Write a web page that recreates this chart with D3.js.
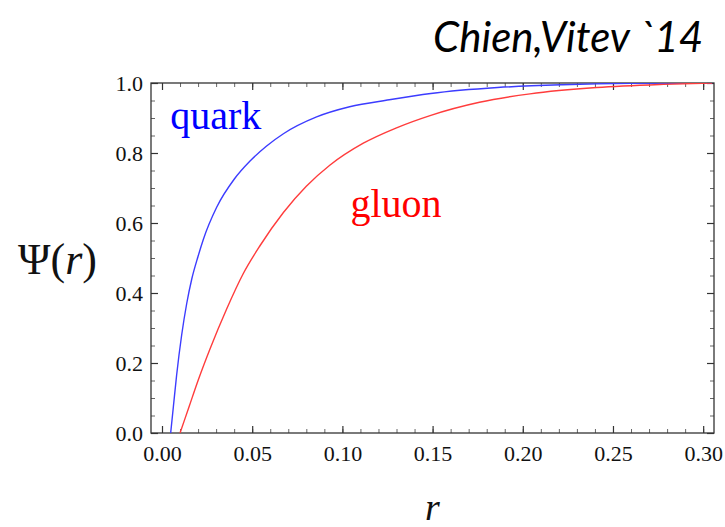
<!DOCTYPE html>
<html>
<head>
<meta charset="utf-8">
<script src="https://cdn.jsdelivr.net/npm/d3@7"></script>
<style>
  body { margin: 0; background: #fff; }
  .axis text { font-family: "Liberation Serif", serif; font-size: 22px; fill: #111; }
  .axis .domain { display: none; }
  .major line { stroke: #333; stroke-width: 1.2; }
  .minor line { stroke: #666; stroke-width: 1; }
</style>
</head>
<body>
<div class="chart"></div>
<script>
// values
const rQuark   = [0.0048, 0.0063, 0.0081, 0.0109, 0.0137, 0.0165, 0.020, 0.0229, 0.0303, 0.040, 0.0488, 0.058, 0.0673, 0.0857, 0.104, 0.126, 0.149, 0.186, 0.222, 0.26, 0.305]
const psiQuark = [0, 0.075, 0.165, 0.28, 0.37, 0.44, 0.505, 0.553, 0.645, 0.725, 0.777, 0.82, 0.855, 0.903, 0.932, 0.952, 0.970, 0.987, 0.995, 0.999, 1.0]

const rGluon   = [0.010, 0.015, 0.020, 0.0266, 0.0359, 0.045, 0.0543, 0.0673, 0.080, 0.093, 0.1116, 0.130, 0.1486, 0.176, 0.204, 0.241, 0.278, 0.305]
const psiGluon = [0, 0.075, 0.15, 0.24, 0.355, 0.455, 0.535, 0.63, 0.705, 0.765, 0.828, 0.872, 0.907, 0.945, 0.969, 0.987, 0.996, 1.0]

const xMajor = [0, 0.05, 0.10, 0.15, 0.20, 0.25, 0.30]
const xMinor = d3.range(0, 31).map(i => i / 100)
const yMajor = [0, 0.2, 0.4, 0.6, 0.8, 1.0]
const yMinor = d3.range(0, 21).map(i => i / 20)

const xDomain = [-0.0061, 0.306]
const yDomain = [0, 1]

const margin = ({top: 83, right: 11, bottom: 94, left: 151})
const width = 725 - margin.left - margin.right,
      height = 527 - margin.top - margin.bottom;

const root = d3.select(".chart").append("svg")
  .attr("width", 725)
  .attr("height", 527)

const svg = root.append("g")
  .attr("transform", `translate(${margin.left},${margin.top})`)

const xScale = d3.scaleLinear().domain(xDomain).range([0, width])
const yScale = d3.scaleLinear().domain(yDomain).range([height, 0])

// minor ticks first, majors on top
svg.append("g").attr("class", "axis minor").attr("transform", `translate(0,${height})`)
  .call(d3.axisBottom(xScale).tickValues(xMinor).tickSize(-4).tickFormat(""))
svg.append("g").attr("class", "axis minor")
  .call(d3.axisTop(xScale).tickValues(xMinor).tickSize(-4).tickFormat(""))
svg.append("g").attr("class", "axis minor")
  .call(d3.axisLeft(yScale).tickValues(yMinor).tickSize(-4).tickFormat(""))
svg.append("g").attr("class", "axis minor").attr("transform", `translate(${width},0)`)
  .call(d3.axisRight(yScale).tickValues(yMinor).tickSize(-4).tickFormat(""))

svg.append("g").attr("class", "axis major").attr("transform", `translate(0,${height})`)
  .call(d3.axisBottom(xScale).tickValues(xMajor).tickSize(-7).tickPadding(12).tickFormat(d3.format(".2f")))
svg.append("g").attr("class", "axis major")
  .call(d3.axisTop(xScale).tickValues(xMajor).tickSize(-7).tickFormat(""))
svg.append("g").attr("class", "axis major")
  .call(d3.axisLeft(yScale).tickValues(yMajor).tickSize(-7).tickPadding(8).tickFormat(d3.format(".1f")))
svg.append("g").attr("class", "axis major").attr("transform", `translate(${width},0)`)
  .call(d3.axisRight(yScale).tickValues(yMajor).tickSize(-7).tickFormat(""))

// frame
svg.append("rect")
  .attr("width", width).attr("height", height)
  .attr("fill", "none").attr("stroke", "#333").attr("stroke-width", 1.3)

svg.append("clipPath").attr("id", "clip")
  .append("rect").attr("width", width).attr("height", height)

const line = d3.line()
  .x(d => xScale(d[0]))
  .y(d => yScale(d[1]))
  .curve(d3.curveMonotoneX)

svg.append("path")
  .datum(d3.zip(rQuark, psiQuark))
  .attr("clip-path", "url(#clip)")
  .attr("fill", "none").attr("stroke", "#3c3cff").attr("stroke-width", 1.4)
  .attr("d", line)

svg.append("path")
  .datum(d3.zip(rGluon, psiGluon))
  .attr("clip-path", "url(#clip)")
  .attr("fill", "none").attr("stroke", "#ff3c3c").attr("stroke-width", 1.4)
  .attr("d", line)

// curve labels
svg.append("text")
  .attr("x", xScale(0.0046)).attr("y", yScale(0.870))
  .attr("font-family", "Liberation Serif, serif").attr("font-size", "40px")
  .attr("fill", "#0000ff").text("quark")

svg.append("text")
  .attr("x", xScale(0.1045)).attr("y", yScale(0.617))
  .attr("font-family", "Liberation Serif, serif").attr("font-size", "40px")
  .attr("fill", "#ff0000").text("gluon")

// axis titles
const yTitle = root.append("text")
  .attr("x", 18).attr("y", 274)
  .attr("font-family", "Liberation Serif, serif").attr("font-size", "44px")
  .attr("fill", "#111")
yTitle.append("tspan").text("Ψ(")
yTitle.append("tspan").attr("font-style", "italic").text("r")
yTitle.append("tspan").text(")")

root.append("text")
  .attr("x", margin.left + width / 2).attr("y", 520)
  .attr("text-anchor", "middle")
  .attr("font-family", "Liberation Serif, serif").attr("font-style", "italic")
  .attr("font-size", "38px").attr("fill", "#111")
  .text("r")

// citation
root.append("text")
  .attr("x", 433).attr("y", 52)
  .attr("font-family", "Lato, sans-serif").attr("font-style", "italic")
  .attr("font-size", "42px").attr("fill", "#000")
  .text("Chien,Vitev `14")
</script>
</body>
</html>
